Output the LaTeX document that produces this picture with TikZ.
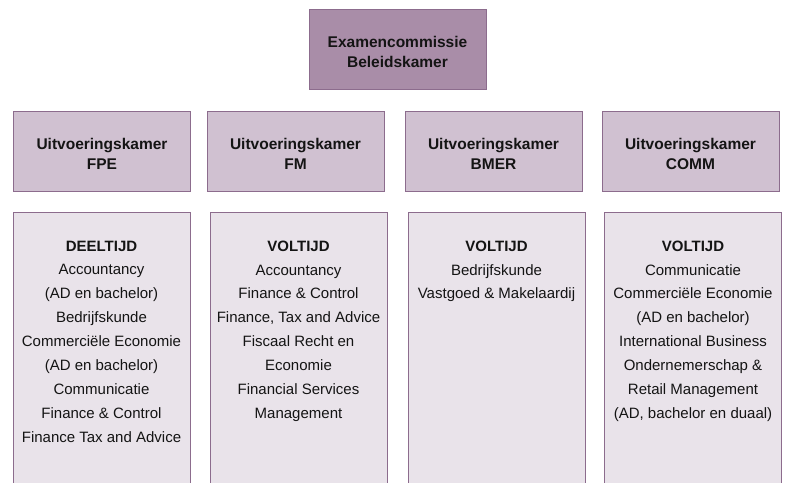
\documentclass[tikz,border=0pt]{standalone}
\usepackage{fontspec}
\setmainfont{Liberation Sans}
\usetikzlibrary{positioning}
\definecolor{kamerdark}{HTML}{A98DA8}
\definecolor{kamermid}{HTML}{D0C1D1}
\definecolor{kamerlight}{HTML}{E9E3EA}
\definecolor{kamerrand}{HTML}{8C6C8D}
\definecolor{kamertext}{HTML}{141414}

\begin{document}
\begin{tikzpicture}[x=1pt,y=-1pt,
	topbox/.style={draw=kamerrand,fill=kamerdark,line width=1pt,minimum width=177pt,minimum height=80pt,inner sep=0pt,align=center,font=\fontsize{15.5}{20}\selectfont\bfseries,text=kamertext,text height=35.1pt,text depth=0pt},
	headbox/.style={topbox,fill=kamermid,text height=37.3pt},
	listbox/.style={draw=kamerrand,fill=kamerlight,line width=1pt,minimum width=177pt,minimum height=280pt,anchor=north},
	listtext/.style={align=center,inner sep=0pt,anchor=north,font=\fontsize{15}{23.9}\selectfont,text=kamertext}]
	\useasboundingbox (0,0) rectangle (786,482);

	\node[topbox] (ek) at (397.5,49.5) {Examencommissie\\Beleidskamer};

	\node[headbox] (fpe)  at (102,151)   {Uitvoeringskamer\\FPE};
	\node[headbox] (fm)   at (295.5,151) {Uitvoeringskamer\\FM};
	\node[headbox] (bmer) at (493.5,151) {Uitvoeringskamer\\BMER};
	\node[headbox] (comm) at (690.5,151) {Uitvoeringskamer\\COMM};

	\node[listbox] (fpelijst)  at (101.5,212) {};
	\node[listbox] (fmlijst)   at (298.5,212) {};
	\node[listbox] (bmerlijst) at (496.5,212) {};
	\node[listbox] (commlijst) at (693,212)   {};

	\node[listtext,below=28.5pt of fpelijst.north] (fpetekst) {\textbf{DEELTIJD}\\Accountancy\\(AD en bachelor)\\Bedrijfskunde\\Commerciële Economie\\(AD en bachelor)\\Communicatie\\Finance \& Control\\Finance Tax and Advice};
	\node[listtext,below=28.5pt of fmlijst.north] (fmtekst) {\textbf{VOLTIJD}\\Accountancy\\Finance \& Control\\Finance, Tax and Advice\\Fiscaal Recht en\\Economie\\Financial Services\\Management};
	\node[listtext,below=28.5pt of bmerlijst.north] (bmertekst) {\textbf{VOLTIJD}\\Bedrijfskunde\\Vastgoed \& Makelaardij};
	\node[listtext,below=28.5pt of commlijst.north] (commtekst) {\textbf{VOLTIJD}\\Communicatie\\Commerciële Economie\\(AD en bachelor)\\International Business\\Ondernemerschap \&\\Retail Management\\(AD, bachelor en duaal)};
\end{tikzpicture}
\end{document}
